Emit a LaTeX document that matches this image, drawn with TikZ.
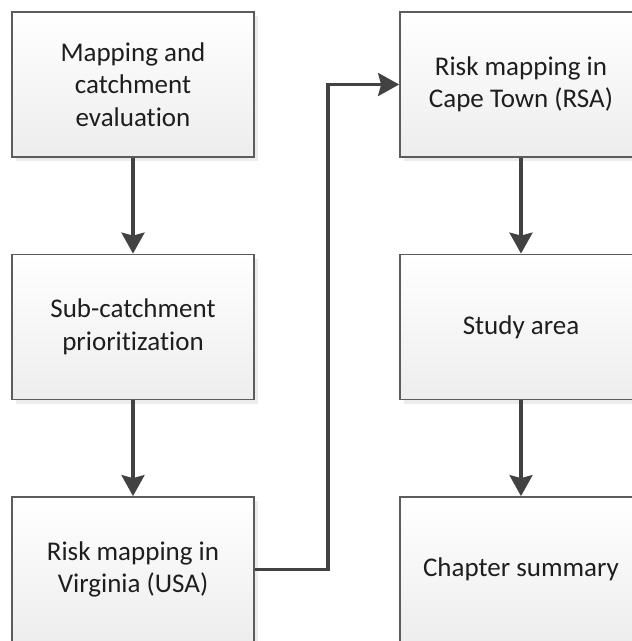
\documentclass[tikz,border=0pt]{standalone}
\usepackage{fontspec}
\setmainfont{Carlito}[RawFeature={-liga;-clig;-dlig;-calt}]
\usetikzlibrary{arrows.meta,shadows}
\definecolor{boxline}{HTML}{5C5C5C}
\definecolor{conline}{HTML}{424242}
\definecolor{txt}{HTML}{1E1E1E}
\tikzset{
  stagebox/.style={draw=boxline, line width=1.8pt,
    top color=white, bottom color=black!7,
    minimum width=242pt, minimum height=145pt,
    align=center, text=txt,
    font=\fontsize{27pt}{32.5pt}\selectfont,
    drop shadow={shadow xshift=4pt, shadow yshift=-4pt, fill=black!12, opacity=0.6}},
  conn/.style={draw=conline, line width=3.3pt,
    -{Stealth[length=21pt, width=23pt, inset=3pt]}}
}
\begin{document}
\begin{tikzpicture}[x=1pt, y=-1pt]
  \clip (0,0) rectangle (632,641);
  \fill[white] (0,0) rectangle (632,641);

  % left column
  \node[stagebox] (map) at (133,84.5) {Mapping and\\catchment\\evaluation};
  \node[stagebox] (sub) at (133,327) {Sub-catchment\\prioritization};
  \node[stagebox] (vir) at (133,569.5) {Risk mapping in\\Virginia (USA)};

  % right column
  \node[stagebox] (cpt) at (521,84.5) {Risk mapping in\\Cape Town (RSA)};
  \node[stagebox] (stu) at (521,327) {Study area};
  \node[stagebox] (sum) at (521,569.5) {Chapter summary};

  % flow
  \draw[conn] (map) -- (sub);
  \draw[conn] (sub) -- (vir);
  \coordinate (bend) at (328,300);
  \draw[conn] (vir.east) -| (bend) |- (cpt.west);
  \draw[conn] (cpt) -- (stu);
  \draw[conn] (stu) -- (sum);
\end{tikzpicture}
\end{document}
